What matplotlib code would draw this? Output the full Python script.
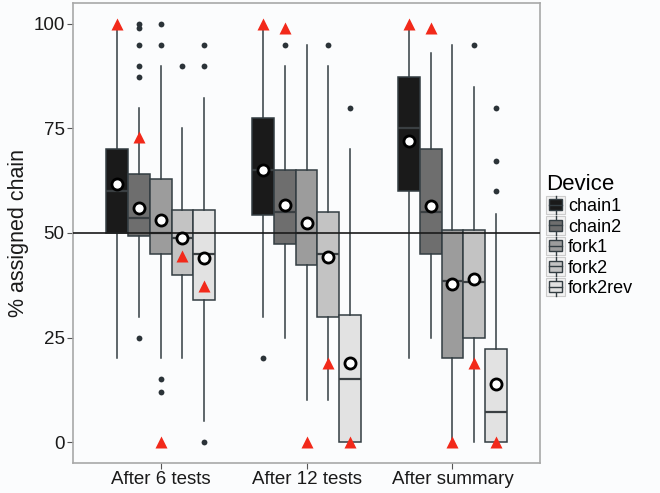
import numpy as np
import matplotlib.pyplot as plt
from matplotlib.legend_handler import HandlerBase
from matplotlib.patches import Rectangle
from matplotlib.lines import Line2D

plt.rcParams['font.family'] = ['Liberation Sans', 'DejaVu Sans']

groups = ['After 6 tests', 'After 12 tests', 'After summary']
devices = ['chain1', 'chain2', 'fork1', 'fork2', 'fork2rev']
fills = ['#1a1a1a', '#6e6e6e', '#9c9c9c', '#c3c3c3', '#e2e2e2']

# rows = groups, cols = devices
q1 = [[50, 49.2, 45, 40, 34],
      [54.4, 47.3, 42.3, 30, 0],
      [60, 45, 20, 25, 0]]
med = [[60, 53.6, 50, 48.7, 45],
       [65, 55, 50, 45, 15],
       [75, 55, 38.5, 38.3, 7.2]]
q3 = [[70, 64, 63, 55.4, 55.4],
      [77.5, 65, 65, 55, 30.5],
      [87.4, 70, 50.6, 50.6, 22.3]]
whislo = [[20, 30, 20, 20, 5],
          [30, 25, 10, 10, 0],
          [20, 25, 0, 0, 0]]
whishi = [[100, 80, 90, 75, 82.4],
          [100, 90, 95, 90, 70],
          [100, 93, 95, 85, 54.6]]
means = [[61.8, 56, 53, 48.9, 44],
         [65, 56.6, 52.5, 44.2, 18.9],
         [72, 56.4, 37.9, 39, 14]]
tri = [[100, 73, 0, 44.5, 37.3],
       [100, 99, 0, 18.8, 0],
       [100, 99, 0, 18.8, 0]]
outliers = [[[], [100, 99, 95, 90, 87.4, 25], [100, 95, 15, 12], [90], [95, 90, 0]],
            [[20], [95], [], [95], [80]],
            [[], [], [], [95], [80, 67.3, 60]]]

edge = '#333d42'
width = 0.75
nd = len(devices)
bw = width / nd

fig = plt.figure(figsize=(6.6, 4.93), dpi=100)
fig.patch.set_facecolor('#fbfcfd')
ax = fig.add_axes([0.1106, 0.0609, 0.7076, 0.9330])
ax.set_facecolor('#fbfcfd')

for g in range(len(groups)):
    for d in range(nd):
        x = g + 1 - width / 2 + bw * (d + 0.5)
        stats = [dict(q1=q1[g][d], med=med[g][d], q3=q3[g][d],
                      whislo=whislo[g][d], whishi=whishi[g][d],
                      fliers=outliers[g][d])]
        ax.bxp(stats, positions=[x], widths=bw, patch_artist=True,
               showcaps=False, manage_ticks=False,
               boxprops=dict(facecolor=fills[d], edgecolor=edge, lw=1.1),
               whiskerprops=dict(color=edge, lw=1.1),
               medianprops=dict(color='#3a3f42', lw=1.6),
               flierprops=dict(marker='o', markersize=4.2, markerfacecolor='#2b3338',
                               markeredgecolor='none'))
        ax.plot(x, tri[g][d], marker='^', color='#f2291a', markersize=8.5,
                markeredgecolor='none', zorder=5)

ax.axhline(50, color='#1a1a1a', lw=1.2, zorder=4)

for g in range(len(groups)):
    for d in range(nd):
        x = g + 1 - width / 2 + bw * (d + 0.5)
        ax.plot(x, means[g][d], marker='o', markersize=8, markerfacecolor='white',
                markeredgecolor='black', markeredgewidth=2, zorder=6)

ax.set_xlim(0.4, 3.6)
ax.set_ylim(-5, 105)
ax.set_xticks([1, 2, 3])
ax.set_xticklabels(groups, fontsize=13.5, color='#1a1a1a')
ax.set_yticks([0, 25, 50, 75, 100])
ax.tick_params(axis='y', labelsize=13.5, labelcolor='#1a1a1a')
ax.tick_params(length=4, color='#555555', width=0.8, pad=2)
ax.set_ylabel('% assigned chain', fontsize=15.5, color='#1a1a1a', labelpad=3)
for s in ax.spines.values():
    s.set_color('#a8a8a8')
    s.set_linewidth(1.2)


class BoxHandler(HandlerBase):
    def create_artists(self, legend, orig_handle, xdescent, ydescent,
                       width, height, fontsize, trans):
        fc = orig_handle.get_facecolor()
        key = Rectangle((-xdescent, -ydescent - 1), width, height + 2,
                        facecolor='#f2f2f2', edgecolor='#cccccc', lw=0.8,
                        transform=trans)
        cx = -xdescent + width / 2
        wl = Line2D([cx, cx], [-ydescent - 1, -ydescent + height + 1],
                    color=edge, lw=1, transform=trans)
        box = Rectangle((-xdescent + width * 0.12, -ydescent + height * 0.15),
                        width * 0.76, height * 0.7, facecolor=fc,
                        edgecolor=edge, lw=1, transform=trans)
        ml = Line2D([-xdescent + width * 0.12, -xdescent + width * 0.88],
                    [-ydescent + height / 2] * 2, color=edge, lw=1,
                    transform=trans)
        return [key, wl, box, ml]


handles = [Rectangle((0, 0), 1, 1, facecolor=c) for c in fills]
leg = fig.legend(handles, devices, loc='upper left',
                 bbox_to_anchor=(0.828, 0.648), frameon=False, fontsize=13,
                 title='Device', title_fontsize=16, handlelength=1.0,
                 handleheight=0.95, handletextpad=0.2, labelspacing=0.14,
                 borderaxespad=0, borderpad=0, handler_map={Rectangle: BoxHandler()})
leg._legend_box.align = 'left'

fig.savefig('out.png', dpi=100, facecolor=fig.get_facecolor())
